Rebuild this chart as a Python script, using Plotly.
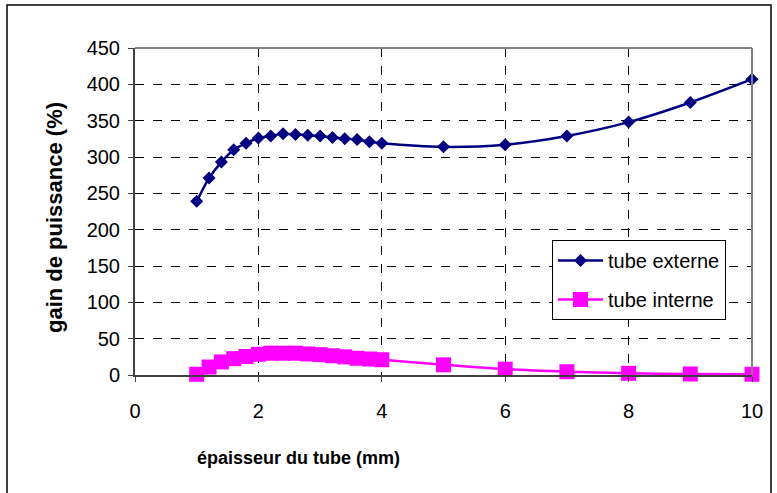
import plotly.graph_objects as go

# épaisseur du tube (mm)
epaisseur = [1.0, 1.2, 1.4, 1.6, 1.8, 2.0, 2.2, 2.4, 2.6, 2.8, 3.0, 3.2, 3.4, 3.6, 3.8, 4.0,
             5, 6, 7, 8, 9, 10]
# gain de puissance (%)
gain_externe = [239, 271, 293, 310, 319, 326, 329, 332, 331, 330, 329, 327, 325, 324, 321, 319,
                314, 317, 329, 348, 375, 407]
gain_interne = [1, 11, 18, 22.5, 25.5, 28.5, 30, 30, 30, 29, 28, 26.5, 25, 23, 22, 21,
                14, 8, 4.5, 2.3, 1.4, 1]

FONT = "Arial, Liberation Sans, sans-serif"

fig = go.Figure()
fig.add_trace(go.Scatter(
    x=epaisseur, y=gain_externe, name="tube externe", legendgroup="ext",
    mode="lines+markers", line=dict(color="#000080", width=2.5, shape="spline", smoothing=0.8),
    marker=dict(symbol="diamond", size=10, color="#000080"),
    cliponaxis=False,
))
fig.add_trace(go.Scatter(
    x=epaisseur, y=gain_interne, name="tube interne", legendgroup="int",
    mode="lines+markers", line=dict(color="#FF00FF", width=2.5, shape="spline", smoothing=0.8),
    marker=dict(symbol="square", size=15, color="#FF00FF"),
    cliponaxis=False,
))

grid = dict(showgrid=True, gridcolor="#000000", griddash="dash", gridwidth=1,
            zeroline=False, showline=True, linecolor="#404040", linewidth=2,
            ticks="outside", ticklen=5, tickcolor="#404040",
            tickfont=dict(family=FONT, size=20, color="#000000"))

fig.update_layout(
    width=777, height=493,
    margin=dict(l=135, r=25, t=48, b=118),
    paper_bgcolor="white", plot_bgcolor="white",
    font=dict(family=FONT, color="#000000"),
    xaxis=dict(range=[0, 10], dtick=2, ticklabelstandoff=12, **grid),
    yaxis=dict(range=[0, 450], dtick=50, ticklabelstandoff=4, **grid),
    legend=dict(x=(552 - 135) / 617, y=(375 - 240) / 327, xanchor="left", yanchor="top",
                bgcolor="white", bordercolor="#000000", borderwidth=1,
                font=dict(family=FONT, size=20), itemwidth=45, tracegroupgap=10),
    showlegend=True,
    annotations=[
        dict(text="<b>épaisseur du tube (mm)</b>", xref="paper", yref="paper",
             x=(298 - 135) / 617, y=(375 - 458) / 327, xanchor="center", yanchor="middle",
             showarrow=False, font=dict(family=FONT, size=18)),
        dict(text="<b>gain de puissance (%)</b>", xref="paper", yref="paper",
             x=(54 - 135) / 617, y=(375 - 218) / 327, xanchor="center", yanchor="middle",
             textangle=-90, showarrow=False, font=dict(family=FONT, size=22)),
    ],
    shapes=[
        dict(type="line", xref="paper", yref="paper", x0=0, x1=1, y0=1, y1=1,
             line=dict(color="#808080", width=2)),
        dict(type="line", xref="paper", yref="paper", x0=1, x1=1, y0=0, y1=1,
             line=dict(color="#808080", width=2)),
        dict(type="rect", xref="paper", yref="paper",
             x0=(7 - 135) / 617, x1=(771 - 135) / 617,
             y0=(375 - 497) / 327, y1=(375 - 5) / 327,
             line=dict(color="#000000", width=1.5)),
    ],
)

fig.write_html("out.html", config={"displayModeBar": False},
               post_script="document.body.style.margin='0';")
